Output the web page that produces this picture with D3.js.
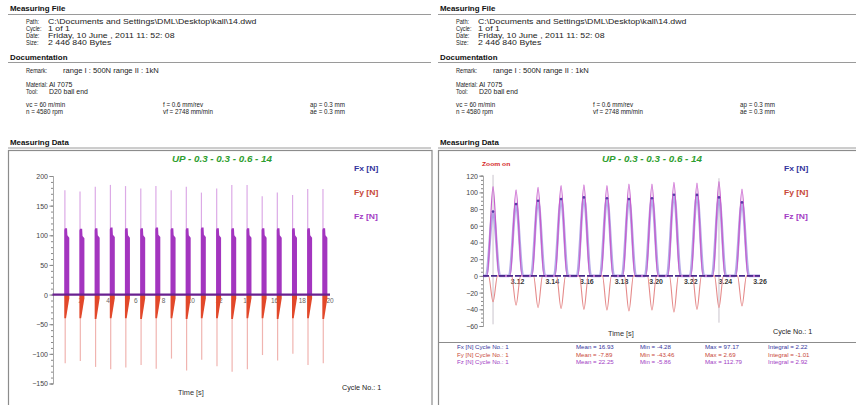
<!DOCTYPE html>
<html>
<head>
<meta charset="utf-8">
<script src="https://cdn.jsdelivr.net/npm/d3@7"></script>
<style>
  body { margin: 0; background: #fff; }
  svg { display: block; font-family: "Liberation Sans", Arial, sans-serif; }
</style>
</head>
<body>
<svg id="c" width="856" height="405"></svg>
<script>
// ---- report header content ----
const fileLabels = ["Path:", "Cycle:", "Date:", "Size:"];
const fileValues = ["C:\\Documents and Settings\\DML\\Desktop\\kall\\14.dwd", "1 of 1",
                    "Friday, 10 June , 2011 11: 52: 08", "2 446 840 Bytes"];
const docLabels = ["Remark:", "Material:", "Tool:"];
const docValues = ["range I : 500N  range II : 1kN", "Al 7075", "D20 ball end"];
const cutParams = [["vc = 60 m/min", "n = 4580 rpm"],
                   ["f = 0.6 mm/rev", "vf = 2748 mm/min"],
                   ["ap = 0.3 mm", "ae = 0.3 mm"]];
const chartTitle = "UP - 0.3 - 0.3 - 0.6 - 14";
const seriesNames = ["Fx [N]", "Fy [N]", "Fz [N]"];
const seriesColors = ["#34349c", "#c8483a", "#a23cc4"];

// ---- full record: one force burst per tool engagement ----
const burstTimes = [0.85, 1.94, 3.04, 4.13, 5.22, 6.32, 7.41, 8.51, 9.60, 10.69,
                    11.79, 12.88, 13.98, 15.07, 16.16, 17.26, 18.35, 19.45];
const burstDuration = 0.36;          // s
const burstFzPeak = [176, 174, 182, 185, 183, 179, 183, 176, 182, 172, 179, 185, 185, 166, 172, 168, 178, 178];
const burstFzBody = [112, 111, 112, 113, 112, 112, 113, 112, 112, 113, 112, 112, 112, 112, 112, 112, 112, 112];
const burstFzTail = [100, 99, 100, 101, 100, 100, 101, 100, 100, 101, 100, 100, 100, 100, 100, 100, 100, 100];
const burstFyBody = [-40, -40, -41, -40, -40, -41, -40, -40, -41, -40, -40, -41, -40, -40, -41, -40, -40, -41];
const burstFyPeak = [-116, -112, -122, -126, -123, -119, -125, -108, -128, -110, -121, -130, -126, -102, -111, -100, -119, -116];
const fullXTicks = [2, 4, 6, 8, 10, 12, 14, 16, 18, 20];
const fullYTicks = [-150, -100, -50, 0, 50, 100, 150, 200];

// ---- zoomed window: individual tooth passes ----
const zoomTimes = [3.1058, 3.1191, 3.1318, 3.1451, 3.1583, 3.1716, 3.1843, 3.1976, 3.2103, 3.2236, 3.2363, 3.2496];
const zoomFx = [77, 86, 90, 92, 94, 93, 92, 93, 97.17, 97, 94, 88];
const zoomFy = [-31, -35, -38, -39, -40, -41, -42, -41, -43.46, -40, -38, -36];
const zoomFz = [107, 103, 106, 108, 109, 108, 110, 110, 112, 111, 112.79, 104];
const pulseHalfWidth = { fx: 0.0040, fy: 0.0026, fz: 0.0034 };   // s
const zoomCursorTimes = [3.1058, 3.2363];
const zoomCursorHigh = [121, 117];
const zoomCursorLow = [-58, -56];
const zoomXTicks = [3.12, 3.14, 3.16, 3.18, 3.20, 3.22, 3.24, 3.26];
const zoomYTicks = [-60, -40, -20, 0, 20, 40, 60, 80, 100, 120];

// ---- statistics of the zoomed cycle ----
const statMean = ["16.93", "-7.89", "22.25"];
const statMin = ["-4.28", "-43.46", "-5.86"];
const statMax = ["97.17", "2.69", "112.79"];
const statIntegral = ["2.22", "-1.01", "2.92"];

const svg = d3.select("#c");
svg.append("rect").attr("width", 856).attr("height", 405).attr("fill", "#fff");

// text with a horizontal stretch factor (the report font is set wide)
function wideText(parent, x, y, s, size, k, opt = {}) {
  return parent.append("text")
    .attr("transform", `translate(${x},${y}) scale(${k},1)`)
    .attr("font-size", size)
    .attr("font-weight", opt.bold ? "bold" : "normal")
    .attr("font-style", opt.italic ? "italic" : "normal")
    .attr("text-anchor", opt.anchor || "start")
    .attr("fill", opt.fill || "#222")
    .text(s);
}

// ---------- header blocks (same report shown twice) ----------
function header(ox, lineEnd) {
  const g = svg.append("g").attr("transform", `translate(${ox},0)`);
  const label = (y, s) => wideText(g, 26, y, s, 7, 0.8);
  const value = (x, y, s, k) => wideText(g, x, y, s, 6.6, k);
  const head = (y, s) => wideText(g, 10, y, s, 6.6, 1.2, { bold: true, fill: "#111" });
  const rule = (y) => g.append("line").attr("x1", 8).attr("x2", lineEnd).attr("y1", y).attr("y2", y)
      .attr("stroke", "#9a9a9a").attr("stroke-width", 1);

  head(10.5, "Measuring File");
  rule(14.5);
  fileLabels.forEach((l, i) => { label(23.5 + i * 7, l); value(48, 23.5 + i * 7, fileValues[i], 1.33); });

  head(59.5, "Documentation");
  rule(62.5);
  label(72.5, docLabels[0]); value(63, 72.5, docValues[0], 1.15);
  label(86.5, docLabels[1]); value(49, 86.5, docValues[1], 1.05);
  label(93.5, docLabels[2]); value(49, 93.5, docValues[2], 1.05);
  const colX = [26, 163, 310];
  cutParams.forEach((pair, i) => { value(colX[i], 106.5, pair[0], 0.95); value(colX[i], 113.5, pair[1], 0.95); });

  head(145, "Measuring Data");
  rule(148);
}
header(0, 431);
header(430, 426);

// panel frames
svg.append("rect").attr("x", 8.5).attr("y", 150.5).attr("width", 423.5).attr("height", 270)
  .attr("fill", "none").attr("stroke", "#8c8c8c").attr("stroke-width", 1.2);
svg.append("rect").attr("x", 438.5).attr("y", 150.5).attr("width", 430).attr("height", 270)
  .attr("fill", "none").attr("stroke", "#8c8c8c").attr("stroke-width", 1.2);
svg.append("line").attr("x1", 438.5).attr("x2", 856).attr("y1", 342.5).attr("y2", 342.5)
  .attr("stroke", "#8c8c8c").attr("stroke-width", 1);

function titleAndLegend(ox) {
  wideText(svg, ox + 222, 162, chartTitle, 8.4, 1.17,
           { bold: true, italic: true, anchor: "middle", fill: "#2f9e2f" });
  seriesNames.forEach((n, i) => {
    wideText(svg, ox + 354, [170.5, 195, 218.5][i], n, 6.6, 1.3, { bold: true, fill: seriesColors[i] });
  });
}
titleAndLegend(0);
titleAndLegend(430);

function styleAxis(sel, color) {
  sel.select(".domain").attr("stroke", color || "#9a9a9a");
  sel.selectAll(".tick line").attr("stroke", "#8a8a8a");
}

// ---------- left chart: full record ----------
{
  const x = d3.scaleLinear().domain([0, 20]).range([52.5, 330]);
  const y = d3.scaleLinear().domain([-150, 200]).range([383.5, 176]);
  const g = svg.append("g");

  // y axis with minor ticks
  g.append("g").attr("transform", "translate(53,0)")
    .call(d3.axisLeft(y).tickValues(d3.range(-150, 201, 10)).tickSize(2).tickFormat(""))
    .call(s => styleAxis(s, "#a8a8a8"));
  g.append("g").attr("transform", "translate(53,0)")
    .call(d3.axisLeft(y).tickValues(fullYTicks).tickSize(3.5).tickPadding(1.5).tickFormat(d3.format("d")))
    .call(s => { styleAxis(s, "#a8a8a8"); s.selectAll("text").attr("font-size", 7).attr("fill", "#444").attr("dy", "0.35em"); });

  // x tick labels (sit beneath the bursts)
  g.selectAll(".xl").data(fullXTicks).join("text")
    .attr("x", d => x(d)).attr("y", y(0) + 8.5).attr("text-anchor", "middle")
    .attr("font-size", 6.5).attr("fill", "#666").text(d => d);

  const bursts = burstTimes.map((t, i) => ({
    t, fzPeak: burstFzPeak[i], fzBody: burstFzBody[i], fzTail: burstFzTail[i],
    fyBody: burstFyBody[i], fyPeak: burstFyPeak[i]
  }));
  const line = d3.line().x(d => x(d[0])).y(d => y(d[1]));

  // single-sample peaks
  g.selectAll(".fzp").data(bursts).join("line")
    .attr("x1", d => x(d.t) + 0.6).attr("x2", d => x(d.t) + 0.6)
    .attr("y1", y(0)).attr("y2", d => y(d.fzPeak))
    .attr("stroke", "#dcaae6").attr("stroke-width", 1.2);
  g.selectAll(".fyp").data(bursts).join("line")
    .attr("x1", d => x(d.t) + 0.9).attr("x2", d => x(d.t) + 0.9)
    .attr("y1", y(0)).attr("y2", d => y(d.fyPeak))
    .attr("stroke", "#f0b4b0").attr("stroke-width", 1.2);

  // dense Fz envelope of each burst
  g.selectAll(".fzb").data(bursts).join("path")
    .attr("d", d => line([[d.t, 0], [d.t, d.fzBody - 3], [d.t + burstDuration * 0.12, d.fzBody],
                          [d.t + burstDuration * 0.55, d.fzBody], [d.t + burstDuration * 0.62, d.fzTail],
                          [d.t + burstDuration, d.fzTail - 4], [d.t + burstDuration, 0]]) + "Z")
    .attr("fill", "#a335bf");
  // dense Fy envelope of each burst
  g.selectAll(".fyb").data(bursts).join("path")
    .attr("d", d => line([[d.t, 0], [d.t + burstDuration, 0], [d.t + burstDuration, -6],
                          [d.t + burstDuration * 0.35, d.fyBody], [d.t, d.fyBody]]) + "Z")
    .attr("fill", "#e2482a");

  // Fx stays near zero at this scale
  g.append("line").attr("x1", x(0)).attr("x2", x(20)).attr("y1", y(0)).attr("y2", y(0))
    .attr("stroke", "#6a2190").attr("stroke-width", 2.2);

  wideText(g, 178, 394.5, "Time [s]", 7, 1.05, { fill: "#333" });
  wideText(g, 342, 389.5, "Cycle No.: 1", 7.2, 1.0, { fill: "#222" });
}

// ---------- right chart: zoomed window ----------
{
  const x = d3.scaleLinear().domain([3.10, 3.26]).range([483, 760]);
  const y = d3.scaleLinear().domain([-60, 120]).range([326, 175.7]);
  const g = svg.append("g");

  wideText(g, 482, 166, "Zoom on", 6, 1.12, { bold: true, fill: "#d42424" });

  g.append("g").attr("transform", "translate(483,0)")
    .call(d3.axisLeft(y).tickValues(d3.range(-60, 121, 5)).tickSize(2).tickFormat(""))
    .call(s => styleAxis(s, "#a8a8a8"));
  g.append("g").attr("transform", "translate(483,0)")
    .call(d3.axisLeft(y).tickValues(zoomYTicks).tickSize(3.5).tickPadding(1.5).tickFormat(d3.format("d")))
    .call(s => { styleAxis(s, "#a8a8a8"); s.selectAll("text").attr("font-size", 7).attr("fill", "#444").attr("dy", "0.35em"); });

  g.selectAll(".xl").data(zoomXTicks).join("text")
    .attr("x", d => x(d)).attr("y", y(0) + 8.5).attr("text-anchor", "middle")
    .attr("font-size", 7).attr("font-weight", "bold").attr("fill", "#3a3a3a").text(d => d.toFixed(2));

  // cursor marks
  g.selectAll(".cur").data(zoomCursorTimes).join("line")
    .attr("x1", d => x(d)).attr("x2", d => x(d))
    .attr("y1", (d, i) => y(zoomCursorLow[i])).attr("y2", (d, i) => y(zoomCursorHigh[i]))
    .attr("stroke", "#c9c3cc").attr("stroke-width", 1);

  const line = d3.line().x(d => x(d[0])).y(d => y(d[1])).curve(d3.curveMonotoneX);
  function trace(values, hw) {
    const pts = [[3.10, 0]];
    zoomTimes.forEach((t, i) => { pts.push([t - hw, 0], [t, values[i]], [t + hw, 0]); });
    pts.push([3.26, 0]);
    return line(pts);
  }

  g.append("path").attr("d", trace(zoomFy, pulseHalfWidth.fy))
    .attr("fill", "none").attr("stroke", "#e58a8a").attr("stroke-width", 1.1);
  g.append("path").attr("d", trace(zoomFx, pulseHalfWidth.fx))
    .attr("fill", "none").attr("stroke", "#9b8ee0").attr("stroke-width", 2.6).attr("stroke-opacity", 0.75);
  g.append("path").attr("d", trace(zoomFz, pulseHalfWidth.fz))
    .attr("fill", "none").attr("stroke", "#c65ccc").attr("stroke-width", 1.3);
  // Fx peak samples
  g.selectAll(".fxm").data(zoomTimes).join("circle")
    .attr("cx", d => x(d)).attr("cy", (d, i) => y(zoomFx[i])).attr("r", 1.3).attr("fill", "#5a3aa8");

  g.append("line").attr("x1", x(3.10)).attr("x2", x(3.26)).attr("y1", y(0)).attr("y2", y(0))
    .attr("stroke", "#4a2a8c").attr("stroke-width", 1.6).attr("stroke-dasharray", "6,2");

  wideText(g, 608, 335.5, "Time [s]", 7, 1.05, { fill: "#333" });
  wideText(g, 773, 333.5, "Cycle No.: 1", 7.2, 1.0, { fill: "#222" });

  // statistics table
  const rowsY = [349, 356.5, 364];
  seriesNames.forEach((n, i) => {
    const c = seriesColors[i];
    const t = (xx, s) => wideText(g, xx, rowsY[i], s, 5.6, 1.1, { fill: c });
    t(457, `${n} Cycle No.: 1`);
    t(576, `Mean = ${statMean[i]}`);
    t(640, `Min = ${statMin[i]}`);
    t(705, `Max = ${statMax[i]}`);
    t(768, `Integral = ${statIntegral[i]}`);
  });
}
</script>
</body>
</html>
